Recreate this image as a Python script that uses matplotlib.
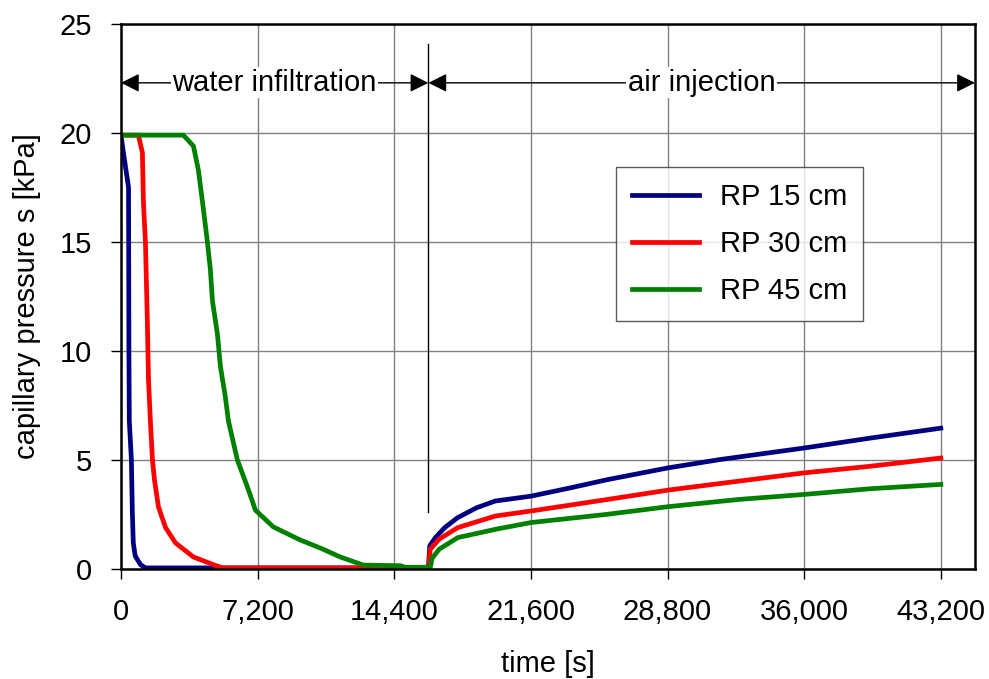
import numpy as np
import matplotlib
matplotlib.use('Agg')
import matplotlib.pyplot as plt

plt.rcParams['font.family'] = ['Liberation Sans', 'DejaVu Sans']

# capillary pressure readings at three depths, time in seconds
t15 = [0, 130, 400, 420, 440, 550, 600, 650, 750, 1030, 1290, 16200,
       16270, 16570, 17060, 17750, 18740, 19730, 21600, 23670, 25640, 28840,
       31560, 36000, 39450, 43200]
s15 = [19.9, 19.1, 17.5, 10.0, 6.8, 5.0, 2.6, 1.2, 0.6, 0.2, 0.05, 0.05,
       1.06, 1.44, 1.9, 2.36, 2.81, 3.12, 3.34, 3.72, 4.1, 4.64,
       5.02, 5.55, 6.0, 6.46]

t30 = [0, 920, 1130, 1185, 1290, 1390, 1450, 1550, 1660, 1765, 1975, 2350, 2870,
       3820, 4870, 5350, 16220, 16290, 16770, 17750, 19730, 21600, 25640, 28840,
       32550, 36000, 39450, 43200]
s30 = [19.9, 19.9, 19.1, 16.8, 15.0, 11.4, 8.7, 6.8, 5.0, 4.1, 2.85, 1.9, 1.2,
       0.55, 0.2, 0.05, 0.05, 0.9, 1.37, 1.9, 2.43, 2.66, 3.19, 3.62,
       4.03, 4.41, 4.71, 5.09]

t45 = [0, 3290, 3820, 4080, 4345, 4555, 4715, 4820, 5080, 5240, 5500, 5660, 6135,
       6660, 7085, 8030, 9450, 10510, 11560, 12770, 14720, 14980, 16300, 16400,
       16770, 17750, 19730, 21600, 25640, 28840, 32550, 36000, 39450, 43200]
s45 = [19.9, 19.9, 19.4, 18.3, 16.5, 15.0, 13.7, 12.3, 10.8, 9.3, 7.9, 6.8, 5.0,
       3.77, 2.7, 1.93, 1.33, 0.96, 0.55, 0.18, 0.15, 0.08, 0.08, 0.5,
       0.91, 1.44, 1.82, 2.13, 2.51, 2.86, 3.19, 3.42, 3.68, 3.88]

labels = ['RP 15 cm', 'RP 30 cm', 'RP 45 cm']
colors = ['#000080', '#ff0000', '#008000']

t_switch = 16200
t_end = 45000
fs = 21

fig = plt.figure(figsize=(9.89, 6.79), dpi=100)
ax = fig.add_axes([0.1223, 0.162, 0.8635, 0.8027])

for t, s, lab, c in zip([t15, t30, t45], [s15, s30, s45], labels, colors):
    ax.plot(t, s, color=c, lw=3.4, label=lab)

ax.set_xlim(0, t_end)
ax.set_ylim(0, 25)
xt = np.arange(0, 43201, 7200)
ax.set_xticks(xt)
ax.set_xticklabels([f'{v:,}' for v in xt])
ax.set_yticks(np.arange(0, 26, 5))
ax.grid(True, color='#808080', lw=1)
ax.set_axisbelow(True)
ax.tick_params(direction='out', length=7, width=1, labelsize=fs, pad=14)
for sp in ax.spines.values():
    sp.set_linewidth(1.8)

ax.set_xlabel('time [s]', fontsize=fs, labelpad=17)
ax.set_ylabel('capillary pressure s [kPa]', fontsize=fs, labelpad=13)

# phase separator and phase arrows
ax.plot([t_switch, t_switch], [2.6, 24.1], color='black', lw=1)
ya = 22.3
arrow = dict(arrowstyle='<|-|>', color='black', lw=1, mutation_scale=28,
             shrinkA=0, shrinkB=0)
ax.annotate('', xy=(0, ya), xytext=(t_switch, ya), arrowprops=arrow)
ax.annotate('', xy=(t_switch, ya), xytext=(t_end, ya), arrowprops=arrow)
box = dict(facecolor='white', edgecolor='none', pad=1)
ax.text(t_switch / 2, ya, 'water infiltration', ha='center', va='center',
        fontsize=fs, bbox=box)
ax.text((t_switch + t_end) / 2, ya, 'air injection', ha='center', va='center',
        fontsize=fs, bbox=box)

leg = ax.legend(loc='upper left', bbox_to_anchor=(0.58, 0.738), fontsize=fs,
                frameon=True, fancybox=False, edgecolor='#333333',
                handlelength=2.3, borderpad=0.55, labelspacing=0.65,
                handletextpad=0.7, borderaxespad=0)
leg.get_frame().set_linewidth(1)

fig.savefig('out.png', dpi=100)
